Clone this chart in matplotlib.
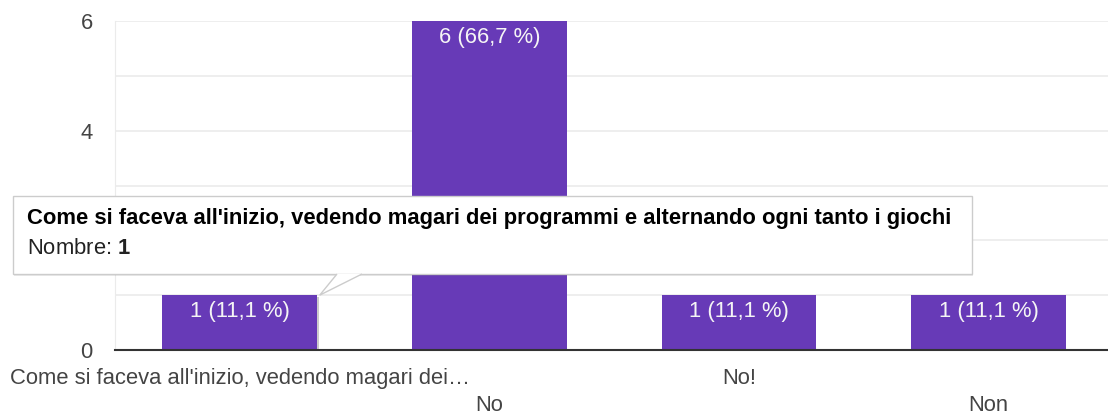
import matplotlib.pyplot as plt
import matplotlib.patheffects as pe
from matplotlib.patches import Rectangle, Polygon

plt.rcParams['font.family'] = ['Liberation Sans', 'DejaVu Sans']
plt.rcParams['mathtext.fontset'] = 'custom'
plt.rcParams['mathtext.rm'] = 'Liberation Sans'
plt.rcParams['mathtext.bf'] = 'Liberation Sans:bold'

categories = ["Come si faceva all'inizio, vedendo magari dei…", "No", "No!", "Non"]
counts = [1, 6, 1, 1]
total = 9
tooltip_title = "Come si faceva all'inizio, vedendo magari dei programmi e alternando ogni tanto i giochi"
tooltip_index = 0

W, H = 1108, 417
fig = plt.figure(figsize=(W / 100, H / 100), dpi=100)
FS = 15.8


def fx(x):
    return x / W


def fy(y):
    return 1 - y / H


# axes spans pixel x 115..1113, y 21..350
ax = fig.add_axes([fx(115), fy(350), fx(1113.5) - fx(115), fy(21) - fy(350)])
purple = '#673ab7'
xs = list(range(len(categories)))
bars = ax.bar(xs, counts, width=0.62, color=purple, zorder=3)
# hovered bar gets a soft shadow
bars[tooltip_index].set_path_effects([
    pe.SimplePatchShadow(offset=(1, -1), shadow_rgbFace='#999999', alpha=0.5), pe.Normal()])

ax.set_xlim(-0.5, len(categories) - 0.5)
ax.set_ylim(0, 6)
ax.set_yticks([0, 2, 4, 6])
ax.set_yticks(range(7), minor=True)
ax.grid(True, which='both', axis='y', color='#ebebeb', linewidth=1.2, zorder=0)
ax.tick_params(axis='y', which='both', length=0, pad=16, labelsize=FS, labelcolor='#444444')
ax.set_xticks([])
for s in ['top', 'right']:
    ax.spines[s].set_visible(False)
ax.spines['left'].set_color('#ebebeb')
ax.spines['bottom'].set_color('#333333')
ax.spines['bottom'].set_linewidth(1.5)
ax.spines['bottom'].set_zorder(4)

# bar value labels
for x, c in zip(xs, counts):
    pct = f"{c / total * 100:.1f}".replace('.', ',')
    ax.annotate(f"{c} ({pct} %)", xy=(x, c), xytext=(0, -4.5), textcoords='offset points',
                ha='center', va='top', color='#f5f5f5', fontsize=FS, zorder=5)

# staggered category labels
for i, (x, lab) in enumerate(zip(xs, categories)):
    off = -13 if i % 2 == 0 else -32.5
    ax.annotate(lab, xy=(x, 0), xycoords=('data', 'axes fraction'), xytext=(0, off),
                textcoords='offset points', ha='center', va='top', fontsize=FS,
                color='#444444', annotation_clip=False)

# tooltip
bx0, by0, bx1, by1 = 13, 196, 972, 274
shadow = Rectangle((fx(bx0 + 1), fy(by1 + 2)), fx(bx1 - bx0), fy(by0) - fy(by1),
                   transform=fig.transFigure, facecolor='#000000', alpha=0.08,
                   edgecolor='none', zorder=10)
box = Rectangle((fx(bx0), fy(by1)), fx(bx1 - bx0), fy(by0) - fy(by1),
                transform=fig.transFigure, facecolor='white', edgecolor='#cccccc',
                linewidth=1, zorder=11)
fig.add_artist(shadow)
fig.add_artist(box)

# pointer tip at top right of the hovered bar
b = bars[tooltip_index]
tip = fig.transFigure.inverted().transform(
    ax.transData.transform((b.get_x() + b.get_width() + 0.01, b.get_height())))
tri = Polygon([(fx(337), fy(by1)), (tip[0], tip[1]), (fx(362), fy(by1))],
              closed=False, transform=fig.transFigure, facecolor='white',
              edgecolor='#cccccc', linewidth=1, zorder=12)
fig.add_artist(tri)

fig.text(fx(27), fy(219), tooltip_title, fontsize=FS, fontweight='bold',
         color='#000000', va='center', ha='left', zorder=14)
fig.text(fx(27), fy(248), "Nombre: $\\mathbf{%d}$" % counts[tooltip_index], fontsize=FS,
         color='#222222', va='center', ha='left', zorder=14)

fig.savefig('out.png', dpi=100, facecolor='white')
